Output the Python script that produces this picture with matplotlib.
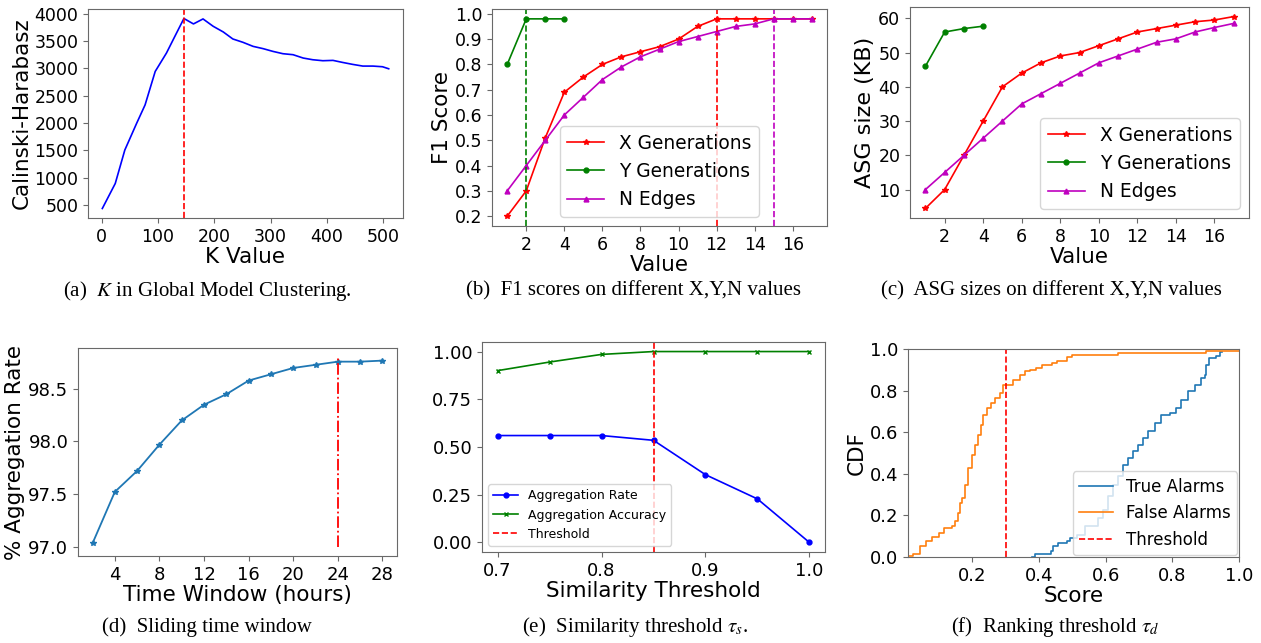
import numpy as np
import matplotlib
matplotlib.use("Agg")
import matplotlib.pyplot as plt

plt.rcParams['mathtext.fontset'] = 'stix'

# (a) K in global model clustering
k_values = [1, 24, 41, 62, 77, 95, 115, 130, 146, 163, 180, 198, 216, 233, 251,
            269, 287, 304, 322, 340, 358, 375, 393, 411, 428, 446, 464, 482, 499, 510]
ch_scores = [440, 897, 1508, 1996, 2332, 2943, 3279, 3585, 3910, 3811, 3902, 3768,
             3664, 3536, 3475, 3401, 3359, 3310, 3267, 3249, 3188, 3157, 3139, 3145,
             3108, 3072, 3041, 3041, 3029, 2992]
k_best = 146

# (b) F1 scores and (c) ASG sizes
xn_values = list(range(1, 18))
y_values = [1, 2, 3, 4]
f1_x = [0.2, 0.3, 0.51, 0.69, 0.75, 0.80, 0.83, 0.85, 0.87, 0.90, 0.95, 0.98, 0.98, 0.98, 0.98, 0.98, 0.98]
f1_y = [0.80, 0.98, 0.98, 0.98]
f1_n = [0.30, 0.40, 0.50, 0.60, 0.67, 0.74, 0.79, 0.83, 0.86, 0.89, 0.91, 0.93, 0.95, 0.96, 0.98, 0.98, 0.98]
asg_x = [4.5, 10, 20, 30, 40, 44, 47, 49, 50, 52, 54, 56, 57, 58, 59, 59.5, 60.5]
asg_y = [46, 56, 57, 57.7]
asg_n = [10, 15, 20, 25, 30, 35, 38, 41, 44, 47, 49, 51, 53, 54, 56, 57.3, 58.5]

# (d) sliding time window
hours = [2, 4, 6, 8, 10, 12, 14, 16, 18, 20, 22, 24, 26, 28]
agg_rate = [97.03, 97.52, 97.72, 97.97, 98.20, 98.35, 98.45, 98.58, 98.64, 98.70,
            98.73, 98.76, 98.76, 98.77]

# (e) similarity threshold
sim_thr = [0.7, 0.75, 0.8, 0.85, 0.9, 0.95, 1.0]
sim_rate = [0.56, 0.56, 0.56, 0.535, 0.355, 0.228, 0.0]
sim_acc = [0.90, 0.945, 0.985, 1.0, 1.0, 1.0, 1.0]

# (f) ranking threshold CDF
true_x = [0.378, 0.388, 0.436, 0.443, 0.458, 0.483, 0.493, 0.513, 0.538, 0.577, 0.592,
          0.607, 0.622, 0.637, 0.652, 0.667, 0.682, 0.697, 0.712, 0.727, 0.747, 0.767,
          0.792, 0.812, 0.827, 0.847, 0.867, 0.887, 0.897, 0.902, 0.91, 0.932, 0.942, 0.95]
true_y = [0.0, 0.014, 0.027, 0.051, 0.067, 0.075, 0.09, 0.107, 0.147, 0.1875, 0.227,
          0.291, 0.348, 0.388, 0.444, 0.476, 0.508, 0.54, 0.572, 0.607, 0.644, 0.684,
          0.692, 0.716, 0.756, 0.796, 0.828, 0.861, 0.876, 0.925, 0.957, 0.964, 0.986, 0.986]
false_x = [0.008, 0.023, 0.043, 0.060, 0.080, 0.101, 0.116, 0.138, 0.148, 0.156, 0.163,
           0.170, 0.178, 0.188, 0.198, 0.208, 0.216, 0.226, 0.233, 0.243, 0.256, 0.268,
           0.283, 0.291, 0.323, 0.343, 0.358, 0.373, 0.391, 0.408, 0.438, 0.453, 0.483,
           0.498, 0.637, 0.902, 1.0]
false_y = [0.003, 0.014, 0.051, 0.075, 0.096, 0.115, 0.139, 0.147, 0.171, 0.21, 0.26,
           0.284, 0.348, 0.428, 0.49, 0.54, 0.588, 0.636, 0.684, 0.716, 0.74, 0.764,
           0.788, 0.828, 0.852, 0.876, 0.892, 0.90, 0.911, 0.921, 0.933, 0.944, 0.96,
           0.97, 0.98, 0.99, 0.99]

W, H = 1261, 643
fig = plt.figure(figsize=(W / 100, H / 100), dpi=100)


def add_ax(l, t, r, b, tick_size):
    ax = fig.add_axes([l / W, 1 - b / H, (r - l) / W, (b - t) / H])
    for sp in ax.spines.values():
        sp.set_color('dimgray')
    ax.tick_params(labelsize=tick_size, color='dimgray')
    return ax


def caption(x, y, text):
    fig.text(x / W, 1 - y / H, text, ha='center', va='center',
             family='Liberation Serif', fontsize=15)


# (a)
ax = add_ax(88, 9, 403, 218, 12.5)
ax.plot(k_values, ch_scores, color='blue', lw=1.2)
ax.axvline(k_best, color='red', ls='--', lw=1.2)
ax.set_xlabel('K Value', fontsize=15.5, labelpad=1)
ax.set_ylabel('Calinski-Harabasz', fontsize=15.5, labelpad=2)
ax.set_xticks([0, 100, 200, 300, 400, 500])
ax.set_yticks([500, 1000, 1500, 2000, 2500, 3000, 3500, 4000])

# (b)
ax = add_ax(492, 9, 827, 226, 12.5)
ax.plot(xn_values, f1_x, color='red', marker='*', ms=4, lw=1.2, label='X Generations')
ax.plot(y_values, f1_y, color='green', marker='o', ms=3.5, lw=1.2, label='Y Generations')
ax.plot(xn_values, f1_n, color='m', marker='^', ms=3.5, lw=1.2, label='N Edges')
ax.axvline(2, color='green', ls='--', lw=1.2)
ax.axvline(12, color='red', ls='--', lw=1.2)
ax.axvline(15, color='m', ls='--', lw=1.2)
ax.set_xticks(range(2, 17, 2))
ax.set_yticks(np.arange(0.2, 1.01, 0.1))
ax.set_yticklabels([f'{v:.1f}' for v in np.arange(0.2, 1.01, 0.1)])
ax.set_xlabel('Value', fontsize=15.5, labelpad=1)
ax.set_ylabel('F1 Score', fontsize=15.5, labelpad=2)
ax.legend(loc='lower center', fontsize=13.4)

# (c)
ax = add_ax(910, 7, 1249, 218, 12.5)
ax.plot(xn_values, asg_x, color='red', marker='*', ms=4, lw=1.2, label='X Generations')
ax.plot(y_values, asg_y, color='green', marker='o', ms=3.5, lw=1.2, label='Y Generations')
ax.plot(xn_values, asg_n, color='m', marker='^', ms=3.5, lw=1.2, label='N Edges')
ax.set_xticks(range(2, 17, 2))
ax.set_yticks([10, 20, 30, 40, 50, 60])
ax.set_xlabel('Value', fontsize=15.5, labelpad=1)
ax.set_ylabel('ASG size (KB)', fontsize=16, labelpad=2)
ax.legend(loc='lower right', fontsize=13.4)

# (d)
ax = add_ax(78, 348, 397, 556, 13)
ax.plot(hours, agg_rate, color='#1f77b4', marker='*', ms=4, lw=1.3)
ax.vlines(24, 97.0, 98.8, color='red', linestyles='-.', lw=1.3)
ax.set_xticks([4, 8, 12, 16, 20, 24, 28])
ax.set_yticks([97.0, 97.5, 98.0, 98.5])
ax.set_xlabel('Time Window (hours)', fontsize=15.5, labelpad=1)
ax.set_ylabel('% Aggregation Rate', fontsize=15.5, labelpad=2)

# (e)
ax = add_ax(482, 342, 825, 552, 13)
ax.plot(sim_thr, sim_rate, color='blue', marker='o', ms=3.5, lw=1.2, label='Aggregation Rate')
ax.plot(sim_thr, sim_acc, color='green', marker='x', ms=3.5, lw=1.2, label='Aggregation Accuracy')
ax.axvline(0.85, color='red', ls='--', lw=1.2, label='Threshold')
ax.set_xticks([0.7, 0.8, 0.9, 1.0])
ax.set_yticks([0.0, 0.25, 0.5, 0.75, 1.0])
ax.set_yticklabels(['0.00', '0.25', '0.50', '0.75', '1.00'])
ax.set_xlabel('Similarity Threshold', fontsize=15.5, labelpad=1)
ax.legend(loc='lower left', fontsize=9)

# (f)
ax = add_ax(908, 349, 1239, 557, 13)
ax.plot(true_x, true_y, color='#1f77b4', drawstyle='steps-post', lw=1.2, label='True Alarms')
ax.plot(false_x, false_y, color='#ff7f0e', drawstyle='steps-post', lw=1.2, label='False Alarms')
ax.axvline(0.3, color='red', ls='--', lw=1.2, label='Threshold')
ax.set_xlim(0.007, 1.0)
ax.set_ylim(0, 1.0)
ax.set_xticks([0.2, 0.4, 0.6, 0.8, 1.0])
ax.set_yticks([0.0, 0.2, 0.4, 0.6, 0.8, 1.0])
ax.set_xlabel('Score', fontsize=15.5, labelpad=1)
ax.set_ylabel('CDF', fontsize=15.5, labelpad=2)
ax.legend(loc='lower right', fontsize=12, borderaxespad=0.1)

caption(207, 291, r'(a)  $K$ in Global Model Clustering.')
caption(633, 291, '(b)  F1 scores on different X,Y,N values')
caption(1051, 291, '(c)  ASG sizes on different X,Y,N values')
caption(207, 627, '(d)  Sliding time window')
caption(635, 627, r'(e)  Similarity threshold $\tau_s$.')
caption(1055, 627, r'(f)  Ranking threshold $\tau_d$')

fig.savefig('out.png', dpi=100)
